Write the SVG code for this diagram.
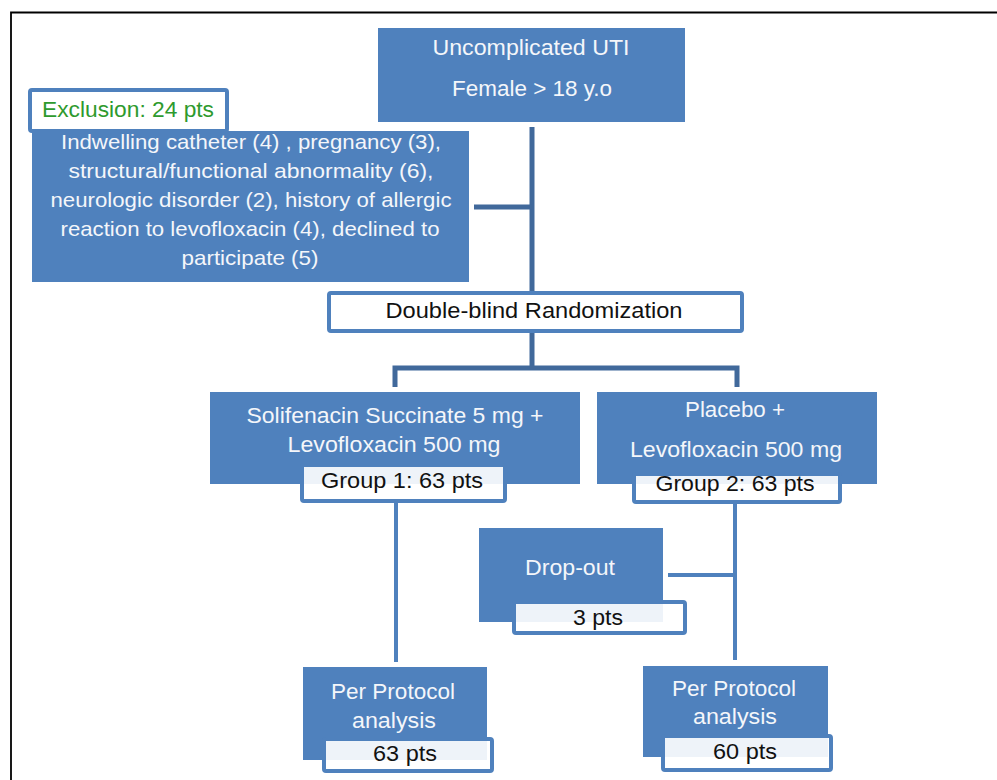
<svg xmlns="http://www.w3.org/2000/svg" width="997" height="780" viewBox="0 0 997 780">
<style>
.box{fill:#4f81bd;}
.lbl{fill:#ffffff;fill-opacity:0.9;stroke:#4f81bd;stroke-width:4;}
.rnd{fill:#ffffff;stroke:#4f81bd;stroke-width:4;}
.conA{stroke:#41699b;stroke-width:5;fill:none;}
.conB{stroke:#4f81bd;stroke-width:4;fill:none;}
text{font-family:"Liberation Sans",Arial,sans-serif;text-anchor:middle;}
.w{fill:#f4f6fa;font-size:22px;}
.e{fill:#f4f6fa;font-size:21px;}
.k{fill:#111111;font-size:22px;}
.g{fill:#2e9a2e;font-size:22px;}
</style>
<rect x="0" y="0" width="997" height="780" fill="#ffffff"/>
<path d="M11,790 V12.5 H1000" fill="none" stroke="#000000" stroke-width="1.8"/>
<g id="connectors">
<path class="conA" d="M532,127 V292"/>
<path class="conA" d="M474,207 H532"/>
<path class="conA" d="M532,332 V368 M395,387 V368 H737 V387"/>
<path class="conB" d="M396,503 V662"/>
<path class="conB" d="M735,504 V660"/>
<path class="conB" d="M668,575 H735"/>
</g>
<g id="uti">
<rect class="box" x="378" y="28" width="307" height="94"/>
<text class="w" x="531" y="55" textLength="197" lengthAdjust="spacingAndGlyphs">Uncomplicated UTI</text>
<text class="w" x="532" y="96" textLength="160" lengthAdjust="spacingAndGlyphs">Female &gt; 18 y.o</text>
</g>
<g id="exclusion">
<rect class="box" x="32" y="131" width="437" height="151"/>
<rect class="lbl" x="30" y="90" width="197" height="41" rx="2" style="fill-opacity:1"/>
<text class="g" x="128" y="117" textLength="172" lengthAdjust="spacingAndGlyphs">Exclusion: 24 pts</text>
<text class="e" x="251" y="149" textLength="380" lengthAdjust="spacingAndGlyphs">Indwelling catheter (4)  , pregnancy (3),</text>
<text class="e" x="251" y="178" textLength="365" lengthAdjust="spacingAndGlyphs">structural/functional abnormality (6),</text>
<text class="e" x="251" y="207" textLength="401" lengthAdjust="spacingAndGlyphs">neurologic disorder (2), history of allergic</text>
<text class="e" x="250" y="236" textLength="379" lengthAdjust="spacingAndGlyphs">reaction to levofloxacin (4), declined to</text>
<text class="e" x="250" y="265" textLength="137" lengthAdjust="spacingAndGlyphs">participate (5)</text>
</g>
<g id="randomization">
<rect class="rnd" x="329" y="293" width="413" height="38" rx="2"/>
<text class="k" x="534" y="318" textLength="297" lengthAdjust="spacingAndGlyphs">Double-blind Randomization</text>
</g>
<g id="group1">
<rect class="box" x="210" y="392" width="370" height="92"/>
<text class="w" x="395" y="423" textLength="297" lengthAdjust="spacingAndGlyphs">Solifenacin Succinate 5 mg +</text>
<text class="w" x="394" y="452" textLength="213" lengthAdjust="spacingAndGlyphs">Levofloxacin 500 mg</text>
<rect class="lbl" x="302" y="465" width="203" height="36" rx="2"/>
<text class="k" x="402" y="488" textLength="162" lengthAdjust="spacingAndGlyphs">Group 1: 63 pts</text>
</g>
<g id="group2">
<rect class="box" x="597" y="392" width="280" height="92"/>
<text class="w" x="735" y="417" textLength="100" lengthAdjust="spacingAndGlyphs">Placebo +</text>
<text class="w" x="736" y="457" textLength="212" lengthAdjust="spacingAndGlyphs">Levofloxacin 500 mg</text>
<rect class="lbl" x="634" y="474" width="206" height="28" rx="2"/>
<text class="k" x="735" y="491" textLength="159" lengthAdjust="spacingAndGlyphs">Group 2: 63 pts</text>
</g>
<g id="dropout">
<rect class="box" x="479" y="528" width="184" height="94"/>
<text class="w" x="570" y="575" textLength="90" lengthAdjust="spacingAndGlyphs">Drop-out</text>
<rect class="lbl" x="514" y="602" width="171" height="31" rx="2"/>
<text class="k" x="598" y="625" textLength="50" lengthAdjust="spacingAndGlyphs">3 pts</text>
</g>
<g id="pp1">
<rect class="box" x="303" y="667" width="184" height="93"/>
<text class="w" x="393" y="699" textLength="124" lengthAdjust="spacingAndGlyphs">Per Protocol</text>
<text class="w" x="394" y="728" textLength="84" lengthAdjust="spacingAndGlyphs">analysis</text>
<rect class="lbl" x="324" y="739" width="168" height="32" rx="2"/>
<text class="k" x="405" y="761" textLength="64" lengthAdjust="spacingAndGlyphs">63 pts</text>
</g>
<g id="pp2">
<rect class="box" x="643" y="666" width="185" height="91"/>
<text class="w" x="734" y="696" textLength="124" lengthAdjust="spacingAndGlyphs">Per Protocol</text>
<text class="w" x="735" y="724" textLength="84" lengthAdjust="spacingAndGlyphs">analysis</text>
<rect class="lbl" x="663" y="736" width="168" height="34" rx="2"/>
<text class="k" x="745" y="759" textLength="64" lengthAdjust="spacingAndGlyphs">60 pts</text>
</g>
</svg>
